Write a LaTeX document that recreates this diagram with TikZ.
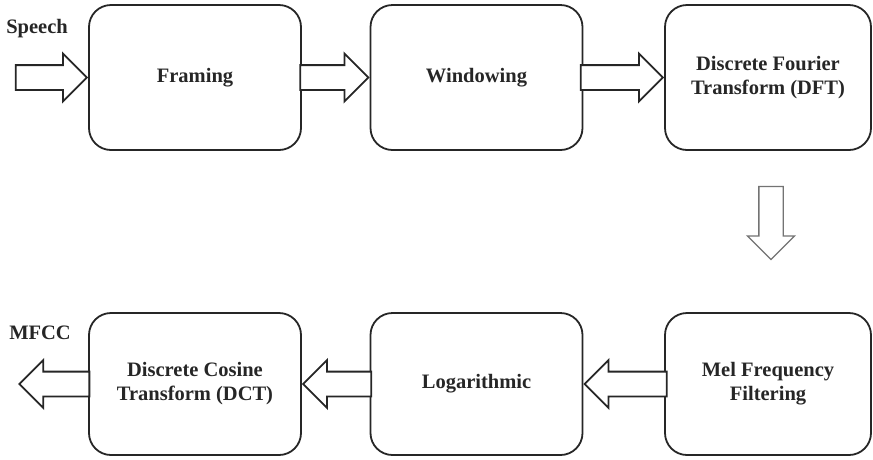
\documentclass[tikz,border=0pt]{standalone}
\usepackage{fontspec}
\setmainfont{Liberation Serif}
\usetikzlibrary{positioning, shapes.arrows, calc}

\begin{document}
\begin{tikzpicture}[
    x=1pt, y=-1pt,
    % Styles
    stage/.style={ % Processing block
        rectangle,
        rounded corners=22pt,
        draw=black!85,
        line width=1.8pt,
        minimum width=212pt,
        minimum height=145pt,
        align=center,
        text=black!85,
        font=\fontsize{20.5}{24}\selectfont\bfseries
    },
    flow/.style={ % Hollow block arrow
        single arrow,
        draw=black!85,
        line width=1.8pt,
        fill=white,
        inner xsep=0pt,
        inner ysep=11.5pt,
        single arrow head extend=11.5pt,
        minimum height=68pt
    },
    flowdown/.style={ % Lighter arrow between the rows
        flow,
        draw=black!55,
        line width=1.3pt,
        inner xsep=11.5pt,
        inner ysep=0pt,
        shape border rotate=270
    },
    label/.style={ % Input and output names
        text=black!85,
        font=\fontsize{20.5}{24}\selectfont\bfseries
    }
]
    \useasboundingbox (0,0) rectangle (873,459);

    % Upper row
    \node [stage] (frame) at (195,77.5) {Framing};
    \node [stage] (window) at (476.5,77.5) {Windowing};
    \node [stage, minimum width=206pt] (dft) at (768,77.5) {Discrete Fourier\\Transform (DFT)};

    % Lower row
    \node [stage, minimum height=142pt, minimum width=206pt] (mel) at (768,384) {Mel Frequency\\Filtering};
    \node [stage, minimum height=142pt] (log) at (476.5,384) {Logarithmic};
    \node [stage, minimum height=142pt] (dct) at (195,384) {Discrete Cosine\\Transform (DCT)};

    % Input and output
    \node [label] (speech) at (37,29) {Speech};
    \node [label] (mfcc) at (40,333) {MFCC};

    % Arrows along the upper row
    \node [flow, anchor=tip, minimum height=71pt] (a0) at (frame.west) {};
    \node [flow, anchor=tip] (a1) at (window.west) {};
    \node [flow, anchor=tip, minimum height=82pt] (a2) at (dft.west) {};

    % From upper to lower row
    \node [flowdown, anchor=tail, minimum height=73pt] (a3) at ($(dft.south)+(3,35)$) {};

    % Arrows along the lower row
    \node [flow, anchor=tip, shape border rotate=180, minimum height=82pt] (a4) at (log.east) {};
    \node [flow, anchor=tip, shape border rotate=180] (a5) at (dct.east) {};
    \node [flow, anchor=tip, shape border rotate=180, minimum height=70pt] (a6) at ($(dct.west)+(-70,0)$) {};
\end{tikzpicture}
\end{document}
